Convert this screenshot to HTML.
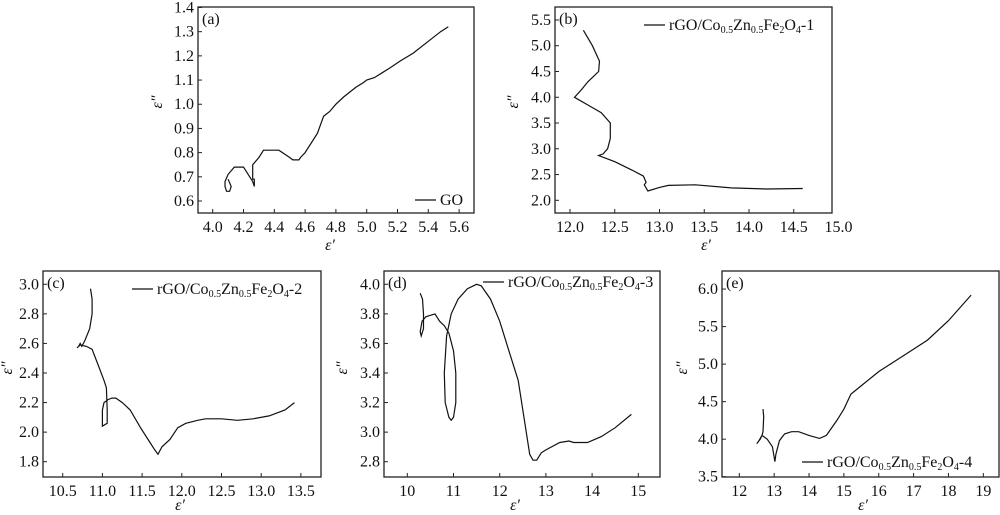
<!DOCTYPE html>
<html><head><meta charset="utf-8"><style>
html,body{margin:0;padding:0;background:#fff;}
svg{display:block;font-family:"Liberation Serif",serif;}
text{font-size:16px;fill:#111;}
</style></head><body>
<svg id="s" width="1000" height="515" viewBox="0 0 1000 515" xmlns="http://www.w3.org/2000/svg"></svg>
<script>
const S=document.getElementById('s');let h='';
function panel(p){
 const {L,T,R,B,x0,xp0,xs,y0,yp0,ys,xt,yt,lab,data,leg,yl,xl}=p;
 const X=v=>xp0+(v-x0)*xs, Y=v=>yp0-(v-y0)*ys;
 h+=`<rect x="${L}" y="${T}" width="${R-L}" height="${B-T}" fill="none" stroke="#222" stroke-width="1.3"/>`;
 xt.forEach(v=>{const x=X(v);if(x>R+8)return;if(x<R)h+=`<line x1="${x}" y1="${B}" x2="${x}" y2="${B-4}" stroke="#222"/>`;h+=`<text x="${x}" y="${B+19}" text-anchor="middle">${v.toFixed(p.xd)}</text>`;});
 yt.forEach(v=>{const y=Y(v);h+=`<line x1="${L}" y1="${y}" x2="${L+4}" y2="${y}" stroke="#222"/><text x="${L-4}" y="${y+5}" text-anchor="end">${v.toFixed(p.yd)}</text>`;});
 h+=`<text x="${L+4}" y="${T+17}">${lab}</text>`;
 h+=`<polyline fill="none" stroke="#111" stroke-width="1.2" points="${data.map(d=>X(d[0]).toFixed(1)+','+Y(d[1]).toFixed(1)).join(' ')}"/>`;
 h+=`<line x1="${leg[0]}" y1="${leg[1]}" x2="${leg[0]+21}" y2="${leg[1]}" stroke="#111" stroke-width="1.2"/><text x="${leg[0]+25}" y="${leg[1]+5}">${leg[2]}</text>`;
 h+=`<text x="${yl[0]}" y="${yl[1]}" font-style="italic" font-size="18" text-anchor="middle" transform="rotate(-90 ${yl[0]} ${yl[1]})">ε″</text>`;
 h+=`<text x="${xl[0]}" y="${xl[1]}" font-style="italic" font-size="18" text-anchor="middle">ε′</text>`;
}
const f=n=>`rGO/Co<tspan font-size="10" dy="3">0.5</tspan><tspan dy="-3">Zn</tspan><tspan font-size="10" dy="3">0.5</tspan><tspan dy="-3">Fe</tspan><tspan font-size="10" dy="3">2</tspan><tspan dy="-3">O</tspan><tspan font-size="10" dy="3">4</tspan><tspan dy="-3">-${n}</tspan>`;
const r=(a,b,s)=>{let o=[];for(let v=a;v<=b+1e-9;v+=s)o.push(+v.toFixed(3));return o;};
panel({L:198,T:7,R:474,B:213,x0:4,xp0:212.7,xs:154,y0:0.6,yp0:201,ys:241.9,xt:r(4,5.6,0.2),yt:r(0.6,1.4,0.1),xd:1,yd:1,lab:'(a)',
data:[[4.10,0.69],[4.12,0.66],[4.11,0.64],[4.09,0.64],[4.08,0.66],[4.08,0.68],[4.10,0.71],[4.14,0.74],[4.20,0.74],[4.24,0.70],[4.26,0.68],[4.27,0.66],[4.27,0.69],[4.26,0.69],[4.26,0.75],[4.3,0.78],[4.33,0.81],[4.43,0.81],[4.5,0.78],[4.52,0.77],[4.56,0.77],[4.57,0.78],[4.6,0.80],[4.68,0.88],[4.72,0.95],[4.76,0.97],[4.8,1.0],[4.85,1.03],[4.93,1.07],[4.98,1.09],[5.0,1.1],[5.05,1.11],[5.15,1.15],[5.22,1.18],[5.3,1.21],[5.4,1.26],[5.48,1.30],[5.53,1.32]],
leg:[415,200,'GO'],yl:[162,102],xl:[330,250]});
panel({L:555,T:7,R:832,B:213,x0:12,xp0:570,xs:89.5,y0:2,yp0:200.3,ys:51.52,xt:r(12,15,0.5),yt:r(2,5.5,0.5),xd:1,yd:1,lab:'(b)',
data:[[12.15,5.3],[12.25,5.0],[12.33,4.7],[12.32,4.5],[12.2,4.3],[12.13,4.15],[12.05,4.0],[12.2,3.85],[12.35,3.7],[12.45,3.5],[12.45,3.2],[12.42,3.0],[12.37,2.9],[12.32,2.87],[12.5,2.75],[12.7,2.58],[12.82,2.47],[12.85,2.35],[12.83,2.3],[12.87,2.18],[13.0,2.25],[13.1,2.29],[13.4,2.3],[13.8,2.24],[14.2,2.22],[14.6,2.23]],
leg:[644,25,f(1)],yl:[518,102],xl:[706,250]});
panel({L:43,T:271,R:321,B:477,x0:10.5,xp0:62.7,xs:79.4,y0:1.8,yp0:461.7,ys:147.85,xt:r(10.5,13.5,0.5),yt:r(1.8,3.0,0.2),xd:1,yd:1,lab:'(c)',
data:[[10.85,2.97],[10.87,2.9],[10.87,2.8],[10.84,2.7],[10.78,2.62],[10.74,2.58],[10.72,2.6],[10.7,2.58],[10.68,2.57],[10.72,2.59],[10.8,2.58],[10.87,2.56],[10.95,2.45],[11.02,2.35],[11.05,2.3],[11.06,2.15],[11.06,2.06],[11.03,2.05],[11.0,2.04],[11.0,2.15],[11.02,2.2],[11.07,2.22],[11.12,2.23],[11.17,2.23],[11.25,2.2],[11.35,2.15],[11.48,2.03],[11.6,1.93],[11.66,1.88],[11.7,1.85],[11.75,1.9],[11.85,1.95],[11.95,2.03],[12.05,2.06],[12.2,2.08],[12.3,2.09],[12.5,2.09],[12.7,2.08],[12.9,2.09],[13.1,2.11],[13.3,2.15],[13.42,2.2]],
leg:[132,289,f(2)],yl:[12,368],xl:[180,510]});
panel({L:384,T:271,R:660,B:477,x0:10,xp0:407.3,xs:46.2,y0:2.8,yp0:461.7,ys:147.85,xt:r(10,15,1),yt:r(2.8,4.0,0.2),xd:0,yd:1,lab:'(d)',
data:[[10.28,3.94],[10.33,3.9],[10.35,3.8],[10.35,3.7],[10.3,3.65],[10.28,3.68],[10.32,3.75],[10.4,3.78],[10.5,3.79],[10.6,3.8],[10.7,3.75],[10.8,3.72],[10.9,3.67],[11.0,3.55],[11.05,3.4],[11.05,3.2],[11.0,3.1],[10.95,3.08],[10.9,3.1],[10.82,3.2],[10.8,3.4],[10.85,3.65],[10.95,3.8],[11.1,3.9],[11.3,3.97],[11.5,4.0],[11.6,3.99],[11.8,3.9],[12.0,3.75],[12.2,3.55],[12.4,3.35],[12.55,3.05],[12.65,2.85],[12.72,2.81],[12.8,2.81],[12.9,2.86],[13.0,2.88],[13.3,2.93],[13.5,2.94],[13.6,2.93],[13.9,2.93],[14.2,2.97],[14.5,3.03],[14.85,3.12]],
leg:[483,282,f(3)],yl:[347,368],xl:[515,510]});
panel({L:722,T:271,R:999,B:477,x0:12,xp0:739.3,xs:34.86,y0:3.5,yp0:476.7,ys:75.06,xt:r(12,19,1),yt:r(3.5,6.0,0.5),xd:0,yd:1,lab:'(e)',
data:[[12.68,4.4],[12.7,4.3],[12.68,4.1],[12.65,4.05],[12.6,4.0],[12.5,3.94],[12.55,3.97],[12.65,4.05],[12.8,4.0],[12.95,3.9],[13.02,3.7],[13.05,3.8],[13.15,3.98],[13.3,4.07],[13.5,4.1],[13.7,4.1],[14.0,4.05],[14.3,4.01],[14.5,4.05],[14.8,4.25],[15.0,4.4],[15.2,4.6],[15.6,4.75],[16.0,4.9],[16.4,5.02],[17.0,5.2],[17.4,5.32],[18.0,5.58],[18.65,5.92]],
leg:[802,462,f(4)],yl:[687,368],xl:[863,510]});
S.innerHTML=h;
</script>
</body></html>
